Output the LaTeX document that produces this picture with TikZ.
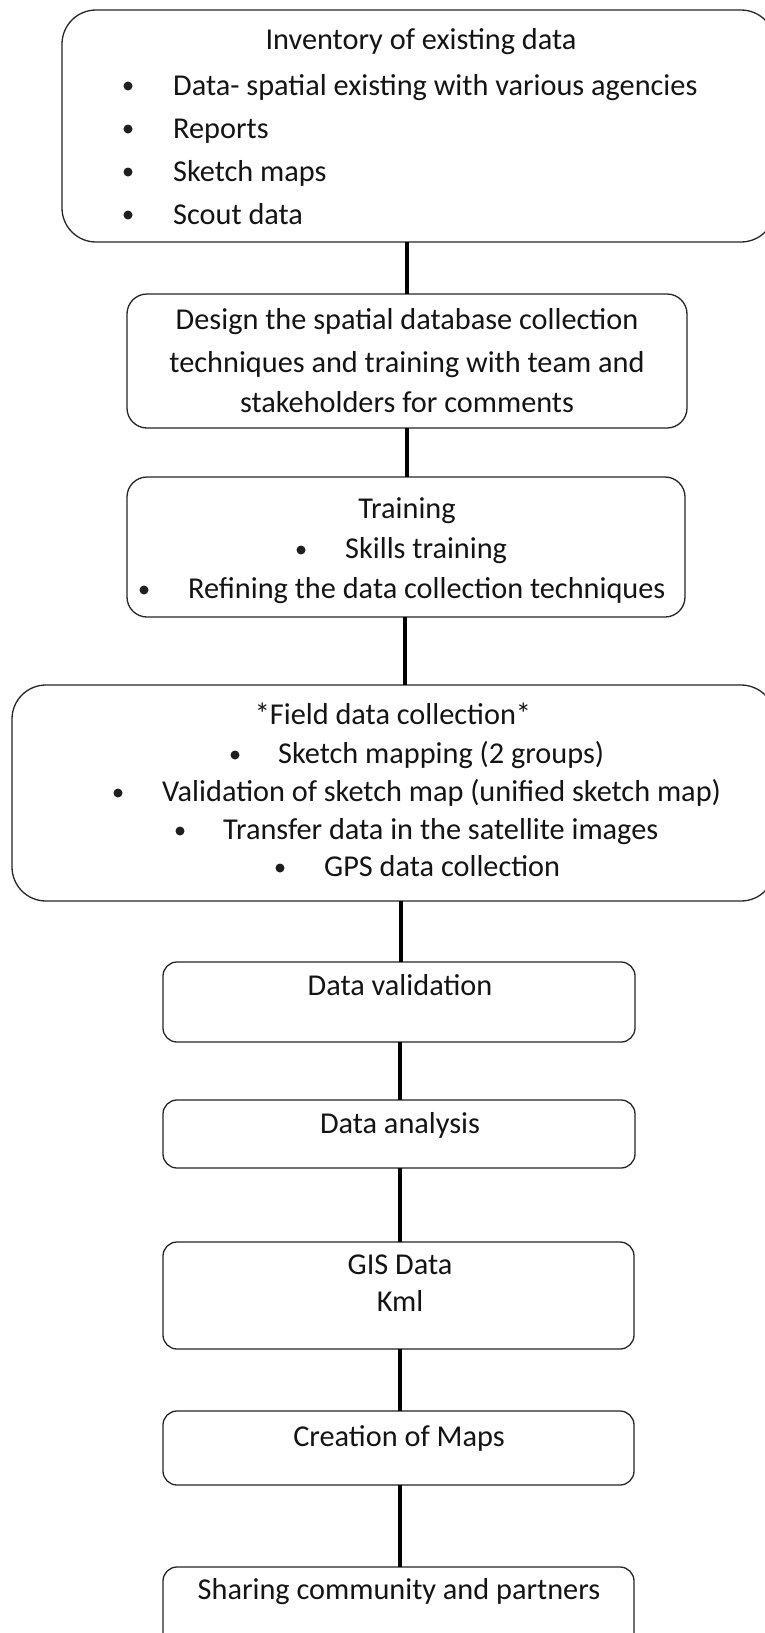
\documentclass[tikz,border=0pt]{standalone}
\usepackage{fontspec}
\setmainfont{Carlito}
\begin{document}
\begin{tikzpicture}[x=1pt,y=-1pt,
  box/.style={draw=black!85, line width=1.3pt, rounded corners=#1, inner sep=0pt, outer sep=0pt},
  box/.default=14pt,
  txt/.style={font=\fontsize{30.3}{36}\selectfont, text=black!92, inner sep=0pt, anchor=base},
  ltxt/.style={txt, anchor=base west},
  dot/.style={circle, fill=black!88, inner sep=0pt, minimum size=9pt},
  link/.style={line width=4.5pt, black}]
\useasboundingbox (0,0) rectangle (765,1633);
\fill[white] (0,0) rectangle (765,1633);

% ---- boxes ----
\node[box=34pt, minimum width=713pt, minimum height=232pt] (b1) at (418.5,126) {};
\node[box=20pt, minimum width=560pt, minimum height=134pt] (b2) at (407,361) {};
\node[box=20pt, minimum width=558pt, minimum height=140pt] (b3) at (406,547) {};
\node[box=34pt, minimum width=763pt, minimum height=216pt] (b4) at (393.5,793) {};
\node[box, minimum width=472pt, minimum height=80pt] (b5) at (399,1002) {};
\node[box, minimum width=472pt, minimum height=68pt] (b6) at (399,1134) {};
\node[box, minimum width=471pt, minimum height=107pt] (b7) at (398.5,1295.5) {};
\node[box, minimum width=471pt, minimum height=74pt] (b8) at (398.5,1448) {};
\node[box, minimum width=471pt, minimum height=98pt] (b9) at (398.5,1616) {};

% ---- inventory ----
\node[txt] (t1) at (421,49) {Inventory of existing data};
\node[dot] (d11) at (128,86) {};
\node[ltxt] (t11) at (173,95) {Data- spatial existing with various agencies};
\node[dot] (d12) at (128,129) {};
\node[ltxt] (t12) at (173,138) {Reports};
\node[dot] (d13) at (128,172) {};
\node[ltxt] (t13) at (173,181) {Sketch maps};
\node[dot] (d14) at (128,215) {};
\node[ltxt] (t14) at (173,224) {Scout data};

% ---- design ----
\node[txt] (t2a) at (407,329) {Design the spatial database collection};
\node[txt] (t2b) at (407,372) {techniques and training with team and};
\node[txt] (t2c) at (407,412) {stakeholders for comments};

% ---- training ----
\node[txt] (t3) at (407,518) {Training};
\node[dot] (d31) at (301,550) {};
\node[ltxt] (t31) at (345,558) {Skills training};
\node[dot] (d32) at (144,590) {};
\node[ltxt] (t32) at (188,598) {Refining the data collection techniques};

% ---- field data collection ----
\node[txt] (t4) at (393,724) {*Field data collection*};
\node[dot] (d41) at (235,755) {};
\node[ltxt] (t41) at (278,763) {Sketch mapping (2 groups)};
\node[dot] (d42) at (118,793) {};
\node[ltxt] (t42) at (162,801) {Validation of sketch map (unified sketch map)};
\node[dot] (d43) at (180,831) {};
\node[ltxt] (t43) at (223,839) {Transfer data in the satellite images};
\node[dot] (d44) at (280,868) {};
\node[ltxt] (t44) at (324,876) {GPS data collection};

% ---- lower steps ----
\node[txt] (t5) at (400,995) {Data validation};
\node[txt] (t6) at (400,1133) {Data analysis};
\node[txt] (t7a) at (400,1274) {GIS Data};
\node[txt] (t7b) at (400,1311) {Kml};
\node[txt] (t8) at (399,1446) {Creation of Maps};
\node[txt] (t9) at (399,1599) {Sharing community and partners};

% ---- connectors ----
\coordinate (ka) at (407,0);
\coordinate (kb) at (405,0);
\coordinate (kc) at (401,0);
\coordinate (kd) at (400,0);
\draw[link] (b1.south -| ka) -- (b2.north -| ka);
\draw[link] (b2.south -| ka) -- (b3.north -| ka);
\draw[link] (b3.south -| kb) -- (b4.north -| kb);
\draw[link] (b4.south -| kc) -- (b5.north -| kc);
\draw[link] (b5.south -| kd) -- (b6.north -| kd);
\draw[link] (b6.south -| kd) -- (b7.north -| kd);
\draw[link] (b7.south -| kd) -- (b8.north -| kd);
\draw[link] (b8.south -| kd) -- (b9.north -| kd);
\end{tikzpicture}
\end{document}
